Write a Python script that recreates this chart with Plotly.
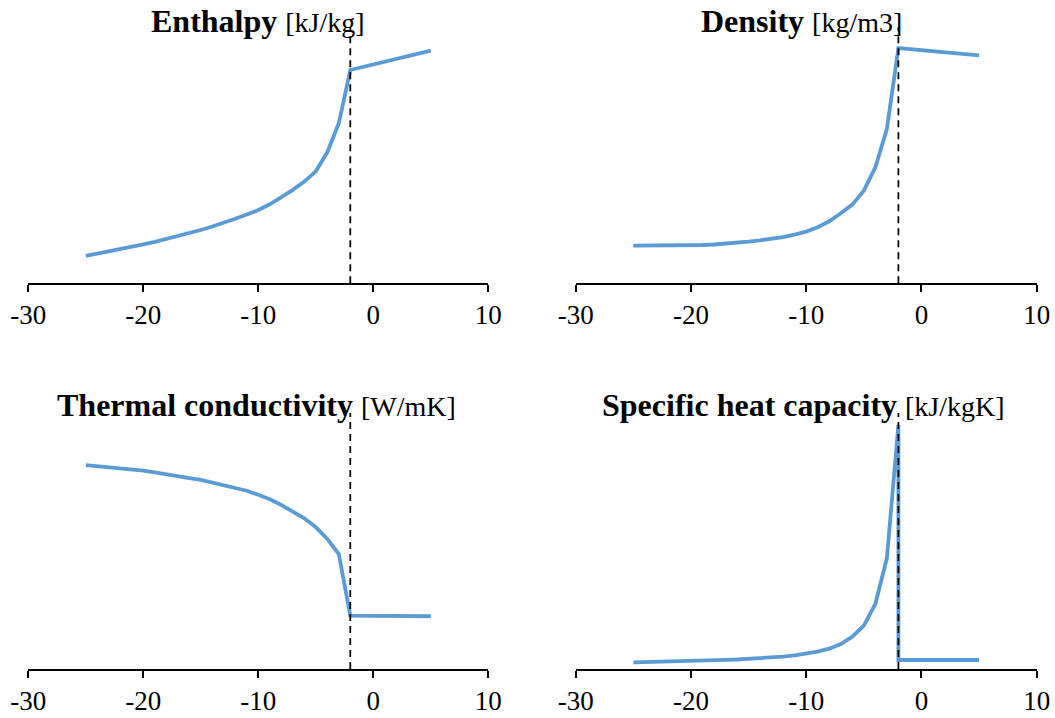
import plotly.graph_objects as go

# ---------------- data ----------------
TEMP = [-25, -24, -23, -22, -21, -20, -19, -18, -17, -16, -15, -14, -13,
        -12, -11, -10, -9, -8, -7, -6, -5, -4, -3, -2, 5]
TEMP_CP = [-25, -24, -23, -22, -21, -20, -19, -18, -17, -16, -15, -14, -13,
           -12, -11, -10, -9, -8, -7, -6, -5, -4, -3, -2, -2, 5]
FREEZE_T = -2

ENTHALPY = [42.7, 46.1, 49.5, 53.1, 57.0, 60.9, 64.8, 69.2, 73.4, 78.1, 83.3,
            88.8, 94.5, 100.8, 107.5, 114.5, 123.4, 134.4, 146.1, 158.9, 175.0,
            204.7, 250.0, 333.3, 363.4]
DENSITY = [176.7, 176.7, 176.7, 177.2, 177.7, 178.1, 179.5, 181.9, 185.2, 189.8,
           195.5, 201.6, 207.7, 217.0, 228.3, 242.3, 262.5, 290.6, 328.1, 368.9,
           434.5, 543.8, 723.3, 1103.0, 1068.8]
CONDUCTIVITY = [1.992, 1.982, 1.973, 1.963, 1.951, 1.937, 1.920, 1.904, 1.885,
                1.865, 1.846, 1.822, 1.797, 1.771, 1.741, 1.702, 1.657, 1.602,
                1.536, 1.472, 1.384, 1.270, 1.123, 0.521, 0.515]
SPECIFIC_HEAT = [2.62, 2.70, 2.77, 2.89, 3.01, 3.13, 3.24, 3.40, 3.55, 3.71,
                 3.91, 4.18, 4.49, 4.84, 5.31, 5.86, 6.76, 7.93, 9.77, 12.62,
                 16.91, 25.39, 43.24, 95.31, 3.52, 3.52]

TITLES = ["Enthalpy", "Density", "Thermal conductivity", "Specific heat capacity"]
UNITS = ["[kJ/kg]", "[kg/m3]", "[W/mK]", "[kJ/kgK]"]
Y_MAX = [400, 1200, 2.5, 100]
X_TICKS = [-30, -20, -10, 0, 10]

# ---------------- layout ----------------
W, H = 1055, 718
FONT = "Liberation Serif"
BLUE = "#5B9BD5"

def px_x(p):
    return p / W

def px_y(p):
    return 1 - p / H

x_dom = [[px_x(28.3), px_x(488.3)], [px_x(575.7), px_x(1036.7)]]
y_dom = [[px_y(283.3), px_y(27.3)], [px_y(669.0), px_y(413.0)]]
title_y = [px_y(20.5), px_y(405.0)]
title_x = [px_x(258.0), px_x(801.0), px_x(256.5), px_x(803.5)]

series = [(TEMP, ENTHALPY), (TEMP, DENSITY), (TEMP, CONDUCTIVITY), (TEMP_CP, SPECIFIC_HEAT)]

fig = go.Figure()
layout = dict(
    width=W, height=H,
    margin=dict(l=0, r=0, t=0, b=0, autoexpand=False),
    paper_bgcolor="white", plot_bgcolor="white",
    showlegend=False,
    font=dict(family=FONT, color="black"),
)
annotations = []
shapes = []
for i, (xs, ys) in enumerate(series):
    row, col = divmod(i, 2)
    n = "" if i == 0 else str(i + 1)
    xa, ya = "x" + n, "y" + n
    fig.add_trace(go.Scatter(x=xs, y=ys, mode="lines", xaxis=xa, yaxis=ya,
                             line=dict(color=BLUE, width=3.8),
                             hoverinfo="skip"))
    layout["xaxis" + n] = dict(
        domain=x_dom[col], anchor=ya, range=[-30, 10],
        tickvals=X_TICKS, ticktext=[str(v) for v in X_TICKS],
        showline=True, linecolor="black", linewidth=1.5,
        ticks="outside", ticklen=7, tickwidth=1.5, tickcolor="black",
        showgrid=False, zeroline=False, automargin=False,
        tickfont=dict(family=FONT, size=27, color="black"),
    )
    layout["yaxis" + n] = dict(
        domain=y_dom[row], anchor=xa, range=[0, Y_MAX[i]],
        visible=False, showgrid=False, zeroline=False, automargin=False,
    )
    shapes.append(dict(type="line", xref=xa, yref=ya + " domain",
                       x0=FREEZE_T, x1=FREEZE_T, y0=0, y1=1,
                       line=dict(color="black", width=1.75, dash="7px,5px"),
                       layer="above"))
    annotations.append(dict(
        xref="paper", yref="paper",
        x=title_x[i], y=title_y[row],
        xanchor="center", yanchor="middle", showarrow=False,
        text="<b>%s</b> <span style='font-size:28px'>%s</span>" % (TITLES[i], UNITS[i]),
        font=dict(family=FONT, size=32, color="black"),
    ))

layout["annotations"] = annotations
layout["shapes"] = shapes
fig.update_layout(**layout)
fig.write_html("out.html",
               config={"displayModeBar": False},
               post_script="document.body.style.margin='0px';"
                           "document.body.style.overflow='hidden';")
